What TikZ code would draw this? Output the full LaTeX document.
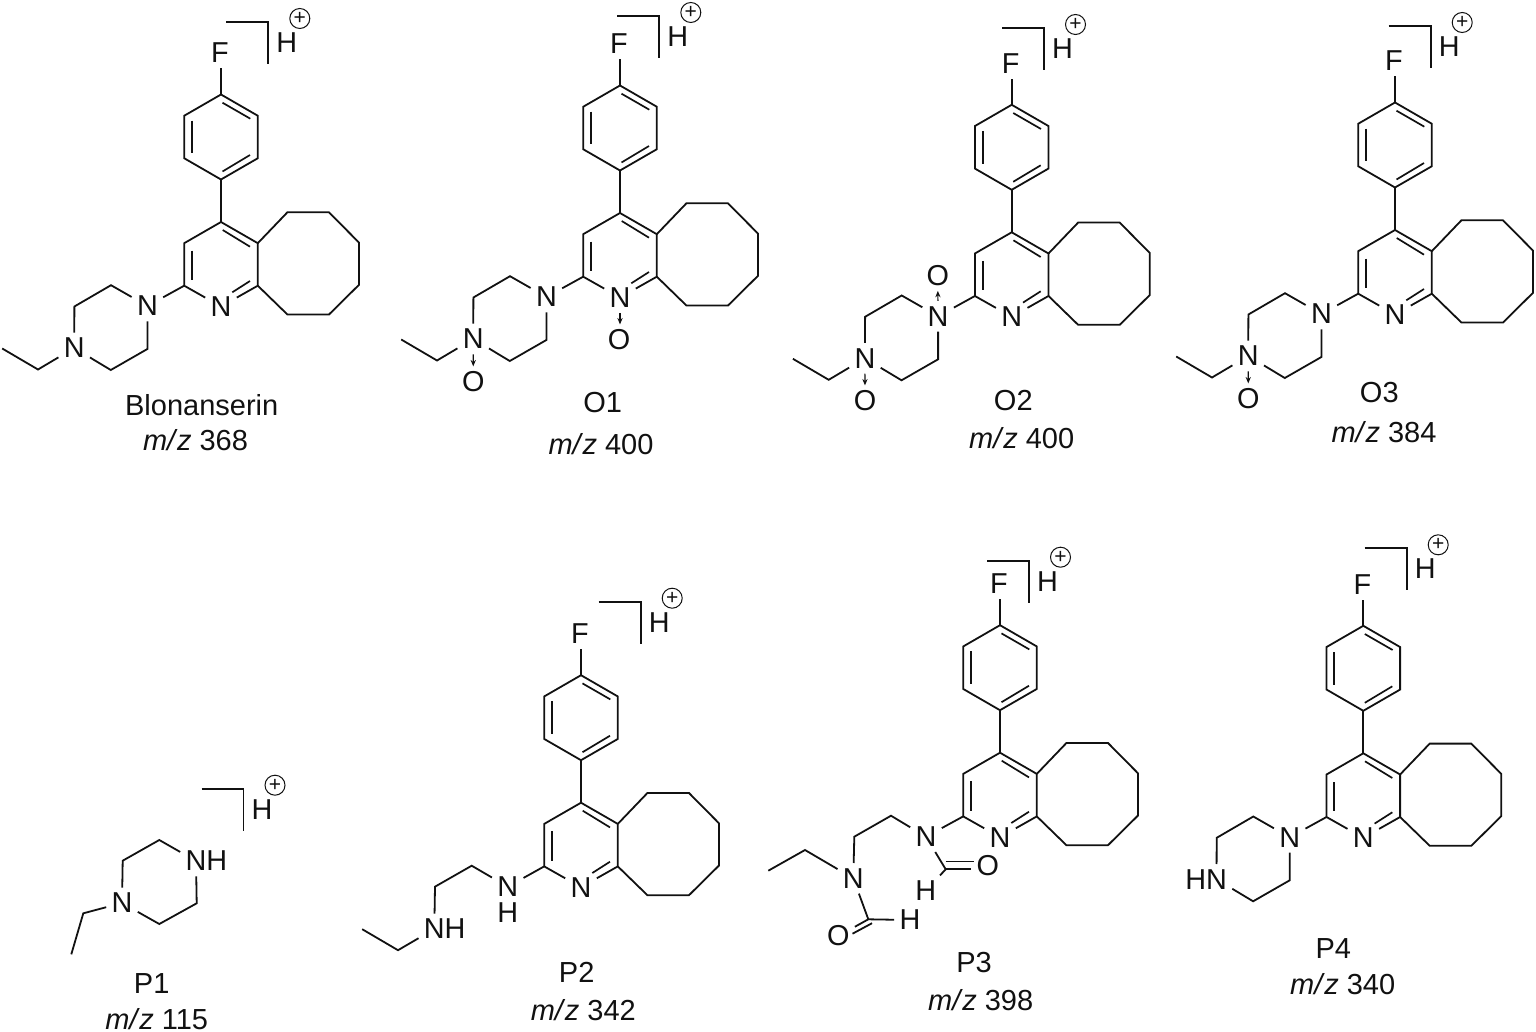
\documentclass[tikz,border=0pt]{standalone}
\usepackage{fontspec}
\setmainfont{Liberation Sans}
\usetikzlibrary{arrows.meta}
\definecolor{ink}{HTML}{111111}
\newcommand{\mz}{\textit{m/\kern0.9pt z}}
\tikzset{
  bond/.style={draw=ink,line width=0.9pt,line join=miter,line cap=butt},
  inner/.style={draw=ink,line width=0.85pt},
  atom/.style={text=ink,inner sep=2.5pt,font=\fontsize{14.4}{16}\selectfont},
  bareatom/.style={text=ink,inner sep=0pt,font=\fontsize{14.4}{16}\selectfont},
  caption/.style={text=ink,inner sep=0pt,anchor=base,font=\fontsize{14.5}{16}\selectfont},
  charge/.style={draw=ink,line width=0.5pt,circle,minimum size=10pt,inner sep=0pt,text=ink,font=\fontsize{10.5}{11}\selectfont},
  oxide/.style={draw=ink,line width=0.55pt,-{Stealth[length=3.2pt,width=2.6pt]}},
}
% bracket with H+ ; #1,#2 = corner of the bracket
\newcommand{\molbracket}[2]{
  \coordinate (bs) at (#1-42,#2);
  \coordinate (bc) at (#1,#2);
  \coordinate (be) at (#1,#2+42);
  \draw[bond] (bs) -- (bc) -- (be);
  \node[atom] (hp) at (#1+18.5,#2+20.5) {H};
  \node[charge] (plus) at (#1+31.5,#2-3.5) {+};
}
% fluorophenyl + cycloocta-pyridine, origin at C4
\newcommand{\molcore}[2]{
  \coordinate (c4) at (0,0);
  \coordinate (c4a) at (36.8,21.2);
  \coordinate (c8a) at (36.8,63.7);
  \node[atom] (npy) at (0,84.5) {N};
  \coordinate (c2) at (-36.8,63.7);
  \coordinate (c3) at (-36.8,21.2);
  \draw[bond] (c2) -- (c3) -- (c4) -- (c4a) -- (c8a) -- (npy) -- (c2);
  \draw[inner] (1.7,8) -- (29,24.7);
  \draw[inner] (-29,28.7) -- (-29,58);
  \draw[inner] (11.3,70.3) -- (29,59);
  % cyclooctane
  \coordinate (o1) at (66.4,-9.7);
  \coordinate (o2) at (108,-9.7);
  \coordinate (o3) at (138,20.6);
  \coordinate (o4) at (138,62.8);
  \coordinate (o5) at (108,92.5);
  \coordinate (o6) at (66.4,92.5);
  \draw[bond] (c4a) -- (o1) -- (o2) -- (o3) -- (o4) -- (o5) -- (o6) -- (c8a);
  % fluorophenyl
  \coordinate (ph1) at (0,-42.5);
  \coordinate (ph2) at (36.8,-63.75);
  \coordinate (ph3) at (36.8,-106.25);
  \coordinate (ph4) at (0,-127.5);
  \coordinate (ph5) at (-36.8,-106.25);
  \coordinate (ph6) at (-36.8,-63.75);
  \draw[bond] (c4) -- (ph1);
  \draw[bond] (ph1) -- (ph2) -- (ph3) -- (ph4) -- (ph5) -- (ph6) -- cycle;
  \draw[inner] (1.5,-119.3) -- (29.3,-103.3);
  \draw[inner] (-29,-101.3) -- (-29,-68.7);
  \draw[inner] (1.5,-50.5) -- (29,-67);
  \node[atom] (fl) at (-1,-169) {F};
  \draw[bond] (ph4) -- (ph4 |- fl.south);
  \molbracket{#1}{#2}
}
% piperazine ring; #1, #2 = label of N1 and N4
\newcommand{\molpip}[2]{
  \node[atom] (n1) at (-73.6,84) {#1};
  \coordinate (ra) at (-110,63.2);
  \coordinate (rb) at (-146.6,84.5);
  \node[atom] (n4) at (-146.8,126) {#2};
  \coordinate (rc) at (-110.2,148);
  \coordinate (rd) at (-73.6,127);
  \draw[bond] (c2) -- (n1) -- (ra) -- (rb) -- (n4) -- (rc) -- (rd) -- (n1);
}
\newcommand{\molethyl}{
  \coordinate (e1) at (-183,147.5);
  \coordinate (e2) at (-218.8,126.5);
  \draw[bond] (n4) -- (e1) -- (e2);
}
\begin{document}
\begin{tikzpicture}[x=0.5pt,y=-0.5pt]
\useasboundingbox (0,0) rectangle (1536,1032);

% Blonanserin
\begin{scope}[shift={(221,222)},name prefix=bl-]
  \molcore{47.3}{-200}
  \molpip{N}{N}
  \molethyl
\end{scope}
\node[caption] (bl-name) at (201.7,415) {Blonanserin};
\node[caption] (bl-mz) at (195.5,450.7) {\mz{} 368};

% O1
\begin{scope}[shift={(620,213)},name prefix=oa-]
  \molcore{39.3}{-197}
  \molpip{N}{N}
  \molethyl
  \node[atom] (ox1) at (-146.7,169) {O};
  \draw[oxide] (n4) -- (ox1);
  \node[atom] (ox2) at (-1,127) {O};
  \draw[oxide] (npy) -- (npy |- ox2.north);
\end{scope}
\node[caption] (oa-name) at (602.7,412.7) {O1};
\node[caption] (oa-mz) at (601,454) {\mz{} 400};

% O2
\begin{scope}[shift={(1011.7,232.3)},name prefix=ob-]
  \molcore{32.3}{-204.3}
  \molpip{N}{N}
  \molethyl
  \node[atom] (ox1) at (-146.7,168.7) {O};
  \draw[oxide] (n4) -- (ox1);
  \node[atom] (ox2) at (-74,43) {O};
  \draw[oxide] (n1) -- (ox2);
\end{scope}
\node[caption] (ob-name) at (1013.3,410.7) {O2};
\node[caption] (ob-mz) at (1021.7,448.3) {\mz{} 400};

% O3
\begin{scope}[shift={(1395,230)},name prefix=oc-]
  \molcore{35.7}{-204}
  \molpip{N}{N}
  \molethyl
  \node[atom] (ox1) at (-146.7,169) {O};
  \draw[oxide] (n4) -- (ox1);
\end{scope}
\node[caption] (oc-name) at (1379.3,402.3) {O3};
\node[caption] (oc-mz) at (1384,442.3) {\mz{} 384};

% P1
\begin{scope}[name prefix=pa-]
  \node[atom] (n1) at (196,861) {N\rlap{H}};
  \coordinate (ra) at (159.3,840);
  \coordinate (rb) at (122.7,860.7);
  \node[atom] (n4) at (122,903) {N};
  \coordinate (rc) at (159.3,924);
  \coordinate (rd) at (196.7,903.3);
  \draw[bond] (n1) -- (ra) -- (rb) -- (n4) -- (rc) -- (rd) -- (n1);
  \coordinate (e1) at (83.3,913.3);
  \coordinate (e2) at (71.3,954.3);
  \draw[bond] (n4) -- (e1) -- (e2);
  \molbracket{243.5}{788.7}
\end{scope}
\node[caption] (pa-name) at (151.7,993) {P1};
\node[caption] (pa-mz) at (156.7,1029) {\mz{} 115};

% P2
\begin{scope}[shift={(581,802.7)},name prefix=pb-]
  \molcore{59.7}{-201}
  \node[atom] (n1) at (-73.3,84) {N};
  \node[bareatom] (hn1) at (-73.3,110) {H};
  \coordinate (ra) at (-109.3,63);
  \coordinate (rb) at (-146,84);
  \node[atom] (n4) at (-146.7,126.3) {N\rlap{H}};
  \draw[bond] (c2) -- (n1) -- (ra) -- (rb) -- (n4);
  \molethyl
\end{scope}
\node[caption] (pb-name) at (576.7,982) {P2};
\node[caption] (pb-mz) at (583.3,1020) {\mz{} 342};

% P3
\begin{scope}[shift={(1000,752.7)},name prefix=pc-]
  \molcore{29}{-192}
  \node[atom] (n1) at (-74,84) {N};
  \coordinate (ra) at (-109,63);
  \coordinate (rb) at (-145.7,84);
  \node[atom] (n4) at (-146.7,125.6) {N};
  \draw[bond] (c2) -- (n1) -- (ra) -- (rb) -- (n4);
  \coordinate (e1) at (-195,97.3);
  \coordinate (e2) at (-231.7,118);
  \draw[bond] (n4) -- (e1) -- (e2);
  % formyl on N1
  \coordinate (fa) at (-54.3,116.6);
  \node[atom] (fao) at (-12.3,113.3) {O};
  \node[atom] (fah) at (-74.3,138) {H};
  \draw[bond] (n1) -- (fa) -- (fah);
  \draw[bond] (fa) -- (fa -| fao.west);
  \draw[bond] (-54.3,108.8) -- (-26,108.8);
  % formyl on N4
  \coordinate (fb) at (-131.7,166.6);
  \node[atom] (fbo) at (-161.7,183.3) {O};
  \node[atom] (fbh) at (-90,167.3) {H};
  \draw[bond] (n4) -- (fb) -- (fbh);
  \draw[bond] (fb) -- (fbo);
  \draw[bond] (-128,170.5) -- (-147.5,181);
\end{scope}
\node[caption] (pc-name) at (974,972.7) {P3};
\node[caption] (pc-mz) at (980.7,1010.7) {\mz{} 398};

% P4
\begin{scope}[shift={(1363.3,753.3)},name prefix=pd-]
  \molcore{43.4}{-205}
  \molpip{N}{\llap{H}N}
\end{scope}
\node[caption] (pd-name) at (1333.3,958) {P4};
\node[caption] (pd-mz) at (1342.7,994) {\mz{} 340};
\end{tikzpicture}
\end{document}
